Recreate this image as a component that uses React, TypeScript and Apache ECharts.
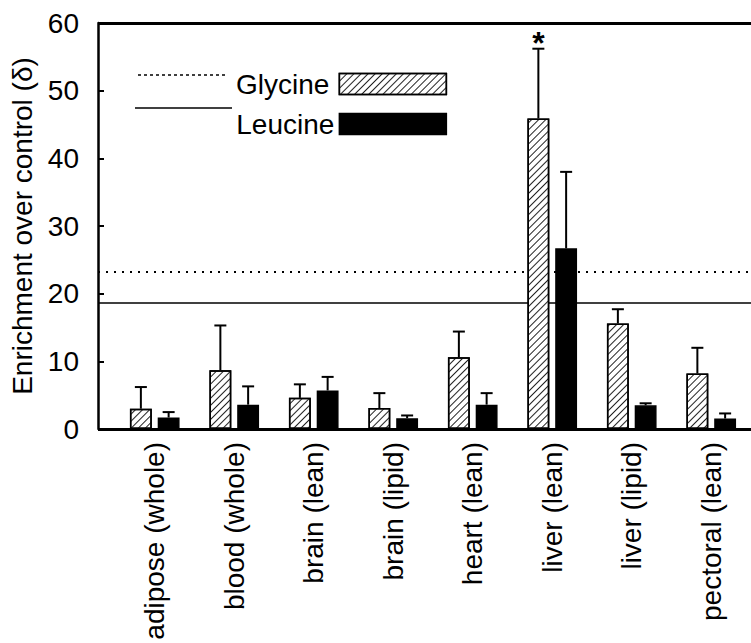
import React, { useEffect, useRef } from "react";
import * as echarts from "echarts";

const categories = [
  "adipose (whole)",
  "blood (whole)",
  "brain (lean)",
  "brain (lipid)",
  "heart (lean)",
  "liver (lean)",
  "liver (lipid)",
  "pectoral (lean)",
];
const glycineMean = [3.0, 8.7, 4.6, 3.1, 10.6, 45.9, 15.6, 8.2];
const glycineErr = [3.2, 6.6, 2.0, 2.2, 3.8, 10.3, 2.1, 3.8];
const leucineMean = [1.7, 3.6, 5.7, 1.6, 3.6, 26.7, 3.5, 1.55];
const leucineErr = [0.8, 2.7, 2.0, 0.4, 1.7, 11.3, 0.3, 0.75];
const significance = ["", "", "", "", "", "*", "", ""];
const glycineOverall = 23.3;
const leucineOverall = 18.7;
const yMin = 0;
const yMax = 60;
const yInterval = 10;

const FONT = "'Liberation Sans', Arial, Helvetica, sans-serif";
const FS = 28;
const BAR_FRAC = 0.275;
const GAP_FRAC = 0.27;
const LEFT_EDGE = 98;
const RIGHT_EDGE = 751;

function errorSeries(name: string, means: number[], errs: number[], sign: number, stars: string[] | null, extra: any) {
  return {
    name: name + " error",
    type: "custom",
    z: 4,
    data: means.map((m, i) => [i, m, errs[i]]),
    renderItem: (params: any, api: any) => {
      const idx = api.value(0);
      const mean = api.value(1);
      const err = api.value(2);
      const base = api.coord([idx, mean]);
      const top = api.coord([idx, mean + err]);
      const band = api.size([1, 0])[0];
      const barW = band * BAR_FRAC;
      const gap = barW * GAP_FRAC;
      const cx = base[0] + (sign * (barW + gap)) / 2;
      const stroke = { stroke: "#000", lineWidth: 2 };
      const children: any[] = [
        { type: "line", shape: { x1: cx, y1: base[1], x2: cx, y2: top[1] }, style: stroke },
        { type: "line", shape: { x1: cx - 6, y1: top[1], x2: cx + 6, y2: top[1] }, style: stroke },
      ];
      const s = stars ? stars[params.dataIndex] : "";
      if (s) {
        children.push({
          type: "text",
          x: cx,
          y: top[1] + 10,
          style: { text: s, fill: "#000", font: `bold 32px ${FONT}`, align: "center", verticalAlign: "bottom" },
        });
      }
      return { type: "group", children };
    },
    ...extra,
  };
}

function hLine(value: number, type: any, width: number) {
  return [
    { x: LEFT_EDGE, yAxis: value, lineStyle: { type, width, color: "#000" } },
    { x: RIGHT_EDGE + 5, yAxis: value },
  ];
}

export default function App() {
  const ref = useRef<HTMLDivElement>(null);
  useEffect(() => {
    if (!ref.current) return;
    const chart = echarts.init(ref.current, null, { renderer: "svg" });
    const option: any = {
      animation: false,
      backgroundColor: "#fff",
      textStyle: { fontFamily: FONT, color: "#000" },
      grid: { left: 115, right: -4, top: 23, bottom: 214, containLabel: false },
      legend: {
        orient: "vertical",
        left: 231,
        top: 65,
        align: "right",
        itemWidth: 107,
        itemHeight: 21,
        itemGap: 12,
        icon: "rect",
        data: ["Glycine", "Leucine"],
        formatter: (name: string) => (name === "Glycine" ? "{g|" + name + "}" : "{l|" + name + "}"),
        textStyle: {
          fontSize: FS,
          color: "#000",
          fontFamily: FONT,
          rich: {
            g: { fontSize: FS, fontFamily: FONT, color: "#000", padding: [0, 5, 0, 0] },
            l: { fontSize: FS, fontFamily: FONT, color: "#000", padding: [0, 0, 0, 0] },
          },
        },
        itemStyle: { borderColor: "#000", borderWidth: 1.5 },
      },
      xAxis: {
        type: "category",
        data: categories,
        axisLine: { show: false },
        axisTick: { show: false },
        axisLabel: { rotate: 90, interval: 0, fontSize: FS, color: "#000", margin: 13, fontFamily: FONT },
      },
      yAxis: {
        type: "value",
        min: yMin,
        max: yMax,
        interval: yInterval,
        offset: 17,
        name: "Enrichment over control (δ)",
        nameLocation: "middle",
        nameGap: 62,
        nameTextStyle: { fontSize: FS, color: "#000", fontFamily: FONT },
        axisLine: { show: true, lineStyle: { color: "#000", width: 2.5 } },
        axisTick: { show: true, inside: true, length: 6, lineStyle: { color: "#000", width: 2 } },
        axisLabel: { fontSize: FS, color: "#000", margin: 19, fontFamily: FONT },
        splitLine: { show: false },
      },
      series: [
        {
          name: "Glycine",
          type: "bar",
          z: 2,
          barWidth: BAR_FRAC * 100 + "%",
          barGap: GAP_FRAC * 100 + "%",
          data: glycineMean,
          itemStyle: {
            color: "#fff",
            borderColor: "#000",
            borderWidth: 1.5,
            decal: {
              symbol: "rect",
              symbolSize: 1,
              dashArrayX: [1, 0],
              dashArrayY: [1, 4],
              rotation: -Math.PI / 4,
              color: "#222",
            },
          },
        },
        {
          name: "Leucine",
          type: "bar",
          z: 2,
          barWidth: BAR_FRAC * 100 + "%",
          barGap: GAP_FRAC * 100 + "%",
          data: leucineMean,
          itemStyle: { color: "#000", borderColor: "#000", borderWidth: 1.5 },
        },
        errorSeries("Glycine", glycineMean, glycineErr, -1, significance, {
          markLine: {
            silent: true,
            z: 1,
            symbol: ["none", "none"],
            label: { show: false },
            data: [hLine(glycineOverall, [2, 6], 2), hLine(leucineOverall, "solid", 1.5)],
          },
        }),
        errorSeries("Leucine", leucineMean, leucineErr, 1, null, {
          markLine: {
            silent: true,
            z: 10,
            symbol: ["none", "none"],
            label: { show: false },
            data: [hLine(yMax, "solid", 3), hLine(yMin, "solid", 3)],
          },
        }),
      ],
      graphic: [
        { type: "line", shape: { x1: 138, y1: 75, x2: 228, y2: 75 }, style: { stroke: "#000", lineWidth: 1.5, lineDash: [3, 3] } },
        { type: "line", shape: { x1: 135, y1: 108, x2: 232, y2: 108 }, style: { stroke: "#000", lineWidth: 1.5 } },
      ],
    };
    chart.setOption(option);
    return () => chart.dispose();
  }, []);
  return <div ref={ref} style={{ position: "absolute", left: 0, top: 0, width: 751, height: 643 }} />;
}
